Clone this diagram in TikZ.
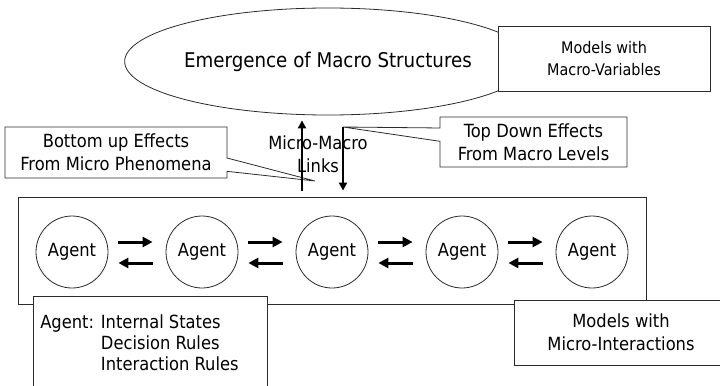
\documentclass[tikz,border=0pt]{standalone}
\usepackage{fontspec}
\setmainfont{DejaVu Sans Condensed}
\usetikzlibrary{arrows.meta,positioning,shapes.geometric,shapes.callouts}
\usepackage{xcolor}
\definecolor{mmLine}{HTML}{2B2B2B}

\begin{document}
\begin{tikzpicture}[x=0.75pt, y=-0.75pt,
  lbl/.style={font=\fontsize{13.6}{17}\selectfont, align=center},
  sml/.style={font=\fontsize{12}{17}\selectfont, align=center},
  box/.style={draw=mmLine, line width=0.6pt, fill=white, inner sep=0pt},
  agt/.style={circle, draw=mmLine, line width=0.6pt, fill=white, minimum size=54pt, inner sep=0pt, lbl},
  call/.style={rectangle callout, draw=mmLine, line width=0.6pt, fill=white, inner sep=0pt, callout pointer width=10pt},
  flow/.style={-{Triangle[length=7.5pt, width=7.5pt]}, line width=2.25pt, black},
  link/.style={-{Triangle[length=6pt, width=6pt]}, line width=1.5pt, black}]
\useasboundingbox (0,0) rectangle (720,385);

% ── macro level ──
\node[ellipse, draw=mmLine, line width=0.6pt, minimum width=286.5pt, minimum height=80.25pt, inner sep=0pt, font=\fontsize{15.2}{18}\selectfont] (macro) at (328,61.5) {Emergence of Macro Structures};
\node[box, sml, minimum width=159pt, minimum height=48.75pt] (macrobox) at (604,58.5) {Models with\\Macro-Variables};

% ── micro level: agents in a row ──
\node[box, minimum width=471pt, minimum height=80.25pt] (frame) at (332,250.5) {};
\foreach \i in {1,...,5}{\node[agt] (a\i) at ({72+130*(\i-1)},252) {Agent};}
\foreach \a/\b in {a1/a2,a2/a3,a3/a4,a4/a5}{
  \draw[flow, shorten <=7.5pt, shorten >=9.75pt] ([yshift=7.5pt]\a.east) -- ([yshift=7.5pt]\b.west);
  \draw[flow, shorten <=9.75pt, shorten >=7.5pt] ([yshift=-8.25pt]\b.west) -- ([yshift=-8.25pt]\a.east);}
\node[box, minimum width=175.5pt, minimum height=75pt, anchor=north west] (agentbox) at (33,296) {};
\node[lbl, align=left, anchor=north west, inner sep=0pt, font=\fontsize{13.6}{16}\selectfont] (agenttxt) at ([xshift=5.25pt, yshift=-13.5pt]agentbox.north west)
  {Agent: Internal States\\\phantom{Agent: }Decision Rules\\\phantom{Agent: }Interaction Rules};
\node[box, lbl, minimum width=160.5pt, minimum height=48.75pt] (microbox) at (621,332.5) {Models with\\Micro-Interactions};

% ── links between the levels ──
\coordinate (bupt) at (315,181);
\coordinate (tdpt) at (343,127);
\node[call, lbl, minimum width=166.5pt, minimum height=38.25pt, callout absolute pointer={(bupt)}] (bottomup) at (116,152.5) {Bottom up Effects\\From Micro Phenomena};
\node[call, lbl, minimum width=140.25pt, minimum height=37.5pt, callout absolute pointer={(tdpt)}] (topdown) at (533.5,142) {Top Down Effects\\From Macro Levels};
\node[lbl] (links) at (318,154) {Micro-Macro\\Links};
\draw[link] ([xshift=-22.5pt, yshift=4.5pt]frame.north) -- ([xshift=-19.5pt, yshift=-3.75pt]macro.south);
\draw[link] ([xshift=11.25pt, yshift=-9pt]macro.south) -- ([xshift=8.25pt, yshift=4.5pt]frame.north);
\end{tikzpicture}
\end{document}
